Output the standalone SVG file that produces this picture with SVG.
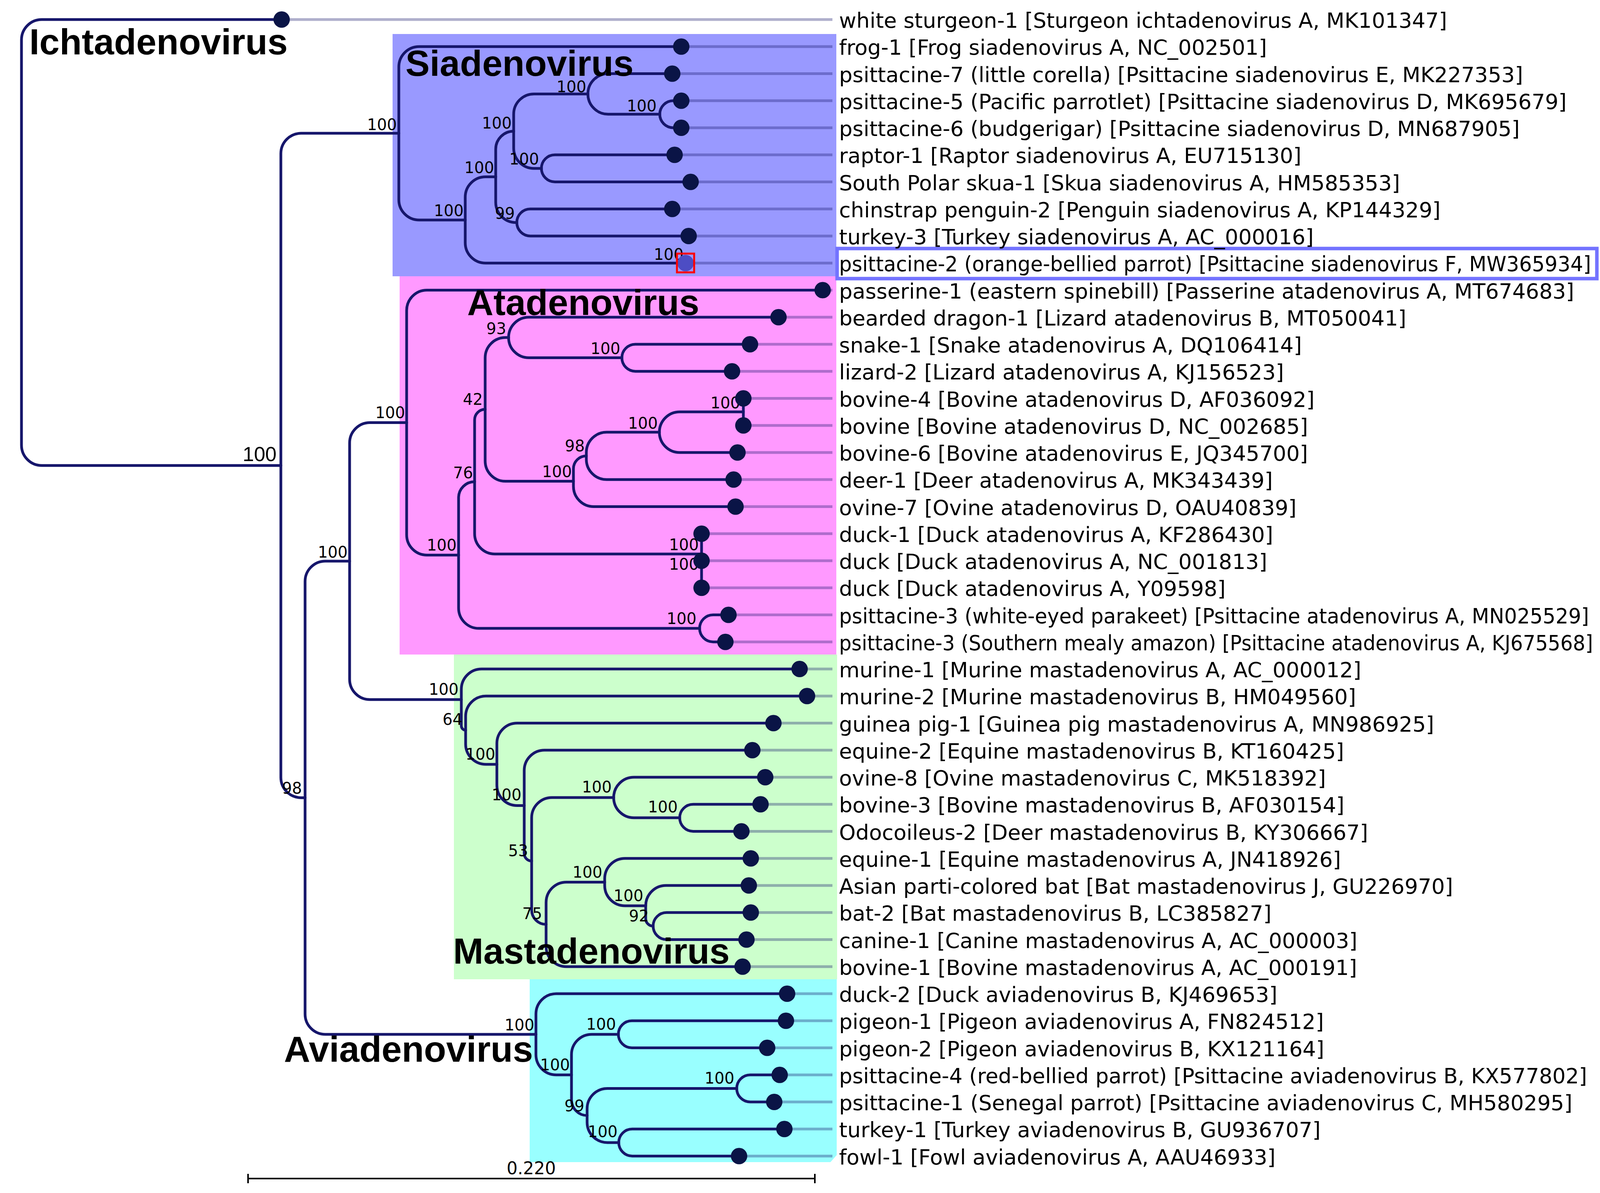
<svg xmlns="http://www.w3.org/2000/svg" width="4249" height="3053" viewBox="0 0 4249 3053">
<style>
.br{fill:none;stroke:#16166b;stroke-width:7;stroke-linecap:round}
.ext{stroke:#1a1a6e;stroke-opacity:.35;stroke-width:7}
.tip{fill:#0a1446}
.lbl{font-family:"DejaVu Sans",sans-serif;font-size:54px;fill:#000}
.bs{font-family:"DejaVu Sans",sans-serif;font-size:40px;fill:#000;text-anchor:end}
.clade{font-family:"Liberation Sans",Arial,sans-serif;font-weight:bold;font-size:93px;fill:#000}
</style>
<rect width="4249" height="3053" fill="#fff"/>
<g id="clade-backgrounds">
<rect id="bg-siadenovirus" x="1005" y="87" width="1136" height="620" fill="#9999ff"/>
<rect id="bg-atadenovirus" x="1023" y="707" width="1118" height="968" fill="#ff99ff"/>
<rect id="bg-mastadenovirus" x="1162" y="1675" width="981" height="831" fill="#ccffcc"/>
<polygon id="bg-aviadenovirus" points="1356,2506 2142,2506 2142,2956 2126,2974 1356,2974" fill="#99ffff"/>
</g>
<rect id="highlight-box" x="2143" y="636" width="1945" height="77" fill="#fff" stroke="#7373ff" stroke-width="9"/>
<g id="connectors">
<path class="br" d="M721,50 H107 A52,52 0 0 0 55,102 V1139.3 A52,52 0 0 0 107,1191.3 H719"/>
<path class="br" d="M1021,341.1 H771 A52,52 0 0 0 719,393.1 V1989.4 A52,52 0 0 0 771,2041.4 H781"/>
<path class="br" d="M1744,119.25 H1073 A52,52 0 0 0 1021,171.25 V510.9 A52,52 0 0 0 1073,562.9 H1191"/>
<path class="br" d="M1269,452.5 H1243 A52,52 0 0 0 1191,504.5 V621.25 A52,52 0 0 0 1243,673.25 H1755"/>
<path class="br" d="M1315,335.7 A46,46 0 0 0 1269,381.7 V517.4 A52,52 0 0 0 1321,569.4 H1323"/>
<path class="br" d="M1505,240.4 H1367 A52,52 0 0 0 1315,292.4 V378.9 A52,52 0 0 0 1367,430.9 H1386"/>
<path class="br" d="M1721,188.5 H1556.9 A51.9,51.9 0 0 0 1505,240.4 A51.9,51.9 0 0 0 1556.9,292.3 H1689"/>
<path class="br" d="M1744,257.75 H1723.6 A34.6,34.6 0 0 0 1689,292.35 A34.6,34.6 0 0 0 1723.6,326.95 H1744"/>
<path class="br" d="M1727,396.25 H1420.6 A34.6,34.6 0 0 0 1386,430.85 A34.6,34.6 0 0 0 1420.6,465.45 H1768"/>
<path class="br" d="M1721,534.75 H1357.6 A34.6,34.6 0 0 0 1323,569.35 A34.6,34.6 0 0 0 1357.6,603.95 H1763"/>
<path class="br" d="M895,1435.9 H833 A52,52 0 0 0 781,1487.9 V2594.9 A52,52 0 0 0 833,2646.9 H1372"/>
<path class="br" d="M1041,1081.5 H947 A52,52 0 0 0 895,1133.5 V1738.3 A52,52 0 0 0 947,1790.3 H1181"/>
<path class="br" d="M2106,742.5 H1093 A52,52 0 0 0 1041,794.5 V1368.4 A52,52 0 0 0 1093,1420.4 H1174"/>
<path class="br" d="M1215,1232.7 A41,41 0 0 0 1174,1273.7 V1556.1 A52,52 0 0 0 1226,1608.1 H1791"/>
<path class="br" d="M1242,1047.6 A27,27 0 0 0 1215,1074.6 V1365.7 A52,52 0 0 0 1267,1417.7 H1796"/>
<path class="br" d="M1302,863.7 H1294 A52,52 0 0 0 1242,915.7 V1179.6 A52,52 0 0 0 1294,1231.6 H1468"/>
<path class="br" d="M1993,811.75 H1353.9 A51.9,51.9 0 0 0 1302,863.65 A51.9,51.9 0 0 0 1353.9,915.55 H1592"/>
<path class="br" d="M1920,881 H1626.6 A34.6,34.6 0 0 0 1592,915.6 A34.6,34.6 0 0 0 1626.6,950.2 H1874"/>
<path class="br" d="M1501,1166.7 A33,33 0 0 0 1468,1199.7 V1244.5 A52,52 0 0 0 1520,1296.5 H1883"/>
<path class="br" d="M1688,1106.1 H1553 A52,52 0 0 0 1501,1158.1 V1175.25 A52,52 0 0 0 1553,1227.25 H1878"/>
<path class="br" d="M1903,1054.1 H1740 A52,52 0 0 0 1688,1106.1 A51.9,51.9 0 0 0 1739.9,1158 H1888"/>
<path class="br" d="M1903,1019.5 V1088.75"/>
<path class="br" d="M1796,1365.75 V1504.25"/>
<path class="br" d="M1865,1573.5 H1825.6 A34.6,34.6 0 0 0 1791,1608.1 A34.6,34.6 0 0 0 1825.6,1642.7 H1857"/>
<path class="br" d="M2047,1712 H1233 A52,52 0 0 0 1181,1764 V1857.6 A11,11 0 0 0 1192,1868.6"/>
<path class="br" d="M2066,1781.25 H1244 A52,52 0 0 0 1192,1833.25 V1904 A52,52 0 0 0 1244,1956 H1272"/>
<path class="br" d="M1980,1850.5 H1324 A52,52 0 0 0 1272,1902.5 V2009.5 A52,52 0 0 0 1324,2061.5 H1342"/>
<path class="br" d="M1926,1919.75 H1394 A52,52 0 0 0 1342,1971.75 V2184.3 A19,19 0 0 0 1361,2203.3"/>
<path class="br" d="M1571,2040.9 H1413 A52,52 0 0 0 1361,2092.9 V2328.6 A37,37 0 0 0 1398,2365.6"/>
<path class="br" d="M1959,1989 H1622.9 A51.9,51.9 0 0 0 1571,2040.9 A51.9,51.9 0 0 0 1622.9,2092.8 H1740"/>
<path class="br" d="M1947,2058.25 H1774.6 A34.6,34.6 0 0 0 1740,2092.85 A34.6,34.6 0 0 0 1774.6,2127.45 H1898"/>
<path class="br" d="M1548,2257.4 H1450 A52,52 0 0 0 1398,2309.4 V2421.75 A52,52 0 0 0 1450,2473.75 H1901"/>
<path class="br" d="M1922,2196.75 H1600 A52,52 0 0 0 1548,2248.75 V2266 A52,52 0 0 0 1600,2318 H1653"/>
<path class="br" d="M1917,2266 H1705 A52,52 0 0 0 1653,2318 V2350.9 A19,19 0 0 0 1672,2369.9"/>
<path class="br" d="M1922,2335.25 H1706.6 A34.6,34.6 0 0 0 1672,2369.85 A34.6,34.6 0 0 0 1706.6,2404.45 H1911"/>
<path class="br" d="M2015,2543 H1424 A52,52 0 0 0 1372,2595 V2698.8 A52,52 0 0 0 1424,2750.8 H1463"/>
<path class="br" d="M1583,2646.9 H1515 A52,52 0 0 0 1463,2698.9 V2814.6 A40,40 0 0 0 1503,2854.6"/>
<path class="br" d="M2012,2612.25 H1617.6 A34.6,34.6 0 0 0 1583,2646.85 A34.6,34.6 0 0 0 1617.6,2681.45 H1964"/>
<path class="br" d="M1886,2785.4 H1555 A52,52 0 0 0 1503,2837.4 V2871.9 A52,52 0 0 0 1555,2923.9 H1584"/>
<path class="br" d="M1996,2750.75 H1920.6 A34.6,34.6 0 0 0 1886,2785.35 A34.6,34.6 0 0 0 1920.6,2819.95 H1982"/>
<path class="br" d="M2008,2889.25 H1618.6 A34.6,34.6 0 0 0 1584,2923.85 A34.6,34.6 0 0 0 1618.6,2958.45 H1892"/>
</g>
<g id="bootstrap-labels">
<text class="bs" x="708" y="1180" style="font-family:'Liberation Sans',Arial,sans-serif;font-size:52px">100</text>
<text class="bs" x="1016" y="333">100</text>
<text class="bs" x="1187" y="553">100</text>
<text class="bs" x="1265" y="443">100</text>
<text class="bs" x="1310" y="329">100</text>
<text class="bs" x="1501" y="236">100</text>
<text class="bs" x="1681" y="285">100</text>
<text class="bs" x="1380" y="421">100</text>
<text class="bs" x="1318" y="560">99</text>
<text class="bs" x="1750" y="665">100</text>
<text class="bs" x="773" y="2031">98</text>
<text class="bs" x="890" y="1427">100</text>
<text class="bs" x="1037" y="1070">100</text>
<text class="bs" x="1169" y="1409">100</text>
<text class="bs" x="1211" y="1224">76</text>
<text class="bs" x="1236" y="1036">42</text>
<text class="bs" x="1296" y="855">93</text>
<text class="bs" x="1588" y="906">100</text>
<text class="bs" x="1464" y="1221">100</text>
<text class="bs" x="1497" y="1155">98</text>
<text class="bs" x="1684" y="1097">100</text>
<text class="bs" x="1895" y="1045">100</text>
<text class="bs" x="1789" y="1408">100</text>
<text class="bs" x="1789" y="1458">100</text>
<text class="bs" x="1783" y="1597">100</text>
<text class="bs" x="1174" y="1778">100</text>
<text class="bs" x="1184" y="1855">64</text>
<text class="bs" x="1268" y="1944">100</text>
<text class="bs" x="1335" y="2048">100</text>
<text class="bs" x="1352" y="2191">53</text>
<text class="bs" x="1566" y="2028">100</text>
<text class="bs" x="1735" y="2079">100</text>
<text class="bs" x="1388" y="2352">75</text>
<text class="bs" x="1542" y="2246">100</text>
<text class="bs" x="1647" y="2306">100</text>
<text class="bs" x="1661" y="2358">92</text>
<text class="bs" x="1368" y="2637">100</text>
<text class="bs" x="1577" y="2635">100</text>
<text class="bs" x="1459" y="2739">100</text>
<text class="bs" x="1880" y="2773">100</text>
<text class="bs" x="1496" y="2844">99</text>
<text class="bs" x="1581" y="2910">100</text>
</g>
<g id="leaf-0"><line class="ext" x1="721" y1="50" x2="2131" y2="50"/><circle class="tip" cx="721" cy="50" r="21"/><text class="lbl" x="2148" y="71">white sturgeon-1 [Sturgeon ichtadenovirus A, MK101347]</text></g>
<g id="leaf-1"><line class="ext" x1="1744" y1="119.25" x2="2131" y2="119.25"/><circle class="tip" cx="1744" cy="119.25" r="21"/><text class="lbl" x="2148" y="140.25">frog-1 [Frog siadenovirus A, NC_002501]</text></g>
<g id="leaf-2"><line class="ext" x1="1721" y1="188.5" x2="2131" y2="188.5"/><circle class="tip" cx="1721" cy="188.5" r="21"/><text class="lbl" x="2148" y="209.5">psittacine-7 (little corella) [Psittacine siadenovirus E, MK227353]</text></g>
<g id="leaf-3"><line class="ext" x1="1744" y1="257.75" x2="2131" y2="257.75"/><circle class="tip" cx="1744" cy="257.75" r="21"/><text class="lbl" x="2148" y="278.75">psittacine-5 (Pacific parrotlet) [Psittacine siadenovirus D, MK695679]</text></g>
<g id="leaf-4"><line class="ext" x1="1744" y1="327" x2="2131" y2="327"/><circle class="tip" cx="1744" cy="327" r="21"/><text class="lbl" x="2148" y="348">psittacine-6 (budgerigar) [Psittacine siadenovirus D, MN687905]</text></g>
<g id="leaf-5"><line class="ext" x1="1727" y1="396.25" x2="2131" y2="396.25"/><circle class="tip" cx="1727" cy="396.25" r="21"/><text class="lbl" x="2148" y="417.25">raptor-1 [Raptor siadenovirus A, EU715130]</text></g>
<g id="leaf-6"><line class="ext" x1="1768" y1="465.5" x2="2131" y2="465.5"/><circle class="tip" cx="1768" cy="465.5" r="21"/><text class="lbl" x="2148" y="486.5">South Polar skua-1 [Skua siadenovirus A, HM585353]</text></g>
<g id="leaf-7"><line class="ext" x1="1721" y1="534.75" x2="2131" y2="534.75"/><circle class="tip" cx="1721" cy="534.75" r="21"/><text class="lbl" x="2148" y="555.75">chinstrap penguin-2 [Penguin siadenovirus A, KP144329]</text></g>
<g id="leaf-8"><line class="ext" x1="1763" y1="604" x2="2131" y2="604"/><circle class="tip" cx="1763" cy="604" r="21"/><text class="lbl" x="2148" y="625">turkey-3 [Turkey siadenovirus A, AC_000016]</text></g>
<g id="leaf-9"><line class="ext" x1="1755" y1="673.25" x2="2131" y2="673.25"/><circle cx="1755" cy="673.25" r="21" fill="#4d4dc4"/><rect x="1733" y="649" width="44" height="48" fill="none" stroke="#ff0000" stroke-width="5"/><text class="lbl" x="2148" y="694.25" textLength="1925" lengthAdjust="spacingAndGlyphs">psittacine-2 (orange-bellied parrot) [Psittacine siadenovirus F, MW365934]</text></g>
<g id="leaf-10"><line class="ext" x1="2106" y1="742.5" x2="2131" y2="742.5"/><circle class="tip" cx="2106" cy="742.5" r="21"/><text class="lbl" x="2148" y="763.5">passerine-1 (eastern spinebill) [Passerine atadenovirus A, MT674683]</text></g>
<g id="leaf-11"><line class="ext" x1="1993" y1="811.75" x2="2131" y2="811.75"/><circle class="tip" cx="1993" cy="811.75" r="21"/><text class="lbl" x="2148" y="832.75">bearded dragon-1 [Lizard atadenovirus B, MT050041]</text></g>
<g id="leaf-12"><line class="ext" x1="1920" y1="881" x2="2131" y2="881"/><circle class="tip" cx="1920" cy="881" r="21"/><text class="lbl" x="2148" y="902">snake-1 [Snake atadenovirus A, DQ106414]</text></g>
<g id="leaf-13"><line class="ext" x1="1874" y1="950.25" x2="2131" y2="950.25"/><circle class="tip" cx="1874" cy="950.25" r="21"/><text class="lbl" x="2148" y="971.25">lizard-2 [Lizard atadenovirus A, KJ156523]</text></g>
<g id="leaf-14"><line class="ext" x1="1903" y1="1019.5" x2="2131" y2="1019.5"/><circle class="tip" cx="1903" cy="1019.5" r="21"/><text class="lbl" x="2148" y="1040.5">bovine-4 [Bovine atadenovirus D, AF036092]</text></g>
<g id="leaf-15"><line class="ext" x1="1903" y1="1088.75" x2="2131" y2="1088.75"/><circle class="tip" cx="1903" cy="1088.75" r="21"/><text class="lbl" x="2148" y="1109.75">bovine [Bovine atadenovirus D, NC_002685]</text></g>
<g id="leaf-16"><line class="ext" x1="1888" y1="1158" x2="2131" y2="1158"/><circle class="tip" cx="1888" cy="1158" r="21"/><text class="lbl" x="2148" y="1179">bovine-6 [Bovine atadenovirus E, JQ345700]</text></g>
<g id="leaf-17"><line class="ext" x1="1878" y1="1227.25" x2="2131" y2="1227.25"/><circle class="tip" cx="1878" cy="1227.25" r="21"/><text class="lbl" x="2148" y="1248.25">deer-1 [Deer atadenovirus A, MK343439]</text></g>
<g id="leaf-18"><line class="ext" x1="1883" y1="1296.5" x2="2131" y2="1296.5"/><circle class="tip" cx="1883" cy="1296.5" r="21"/><text class="lbl" x="2148" y="1317.5">ovine-7 [Ovine atadenovirus D, OAU40839]</text></g>
<g id="leaf-19"><line class="ext" x1="1796" y1="1365.75" x2="2131" y2="1365.75"/><circle class="tip" cx="1796" cy="1365.75" r="21"/><text class="lbl" x="2148" y="1386.75">duck-1 [Duck atadenovirus A, KF286430]</text></g>
<g id="leaf-20"><line class="ext" x1="1796" y1="1435" x2="2131" y2="1435"/><circle class="tip" cx="1796" cy="1435" r="21"/><text class="lbl" x="2148" y="1456">duck [Duck atadenovirus A, NC_001813]</text></g>
<g id="leaf-21"><line class="ext" x1="1796" y1="1504.25" x2="2131" y2="1504.25"/><circle class="tip" cx="1796" cy="1504.25" r="21"/><text class="lbl" x="2148" y="1525.25">duck [Duck atadenovirus A, Y09598]</text></g>
<g id="leaf-22"><line class="ext" x1="1865" y1="1573.5" x2="2131" y2="1573.5"/><circle class="tip" cx="1865" cy="1573.5" r="21"/><text class="lbl" x="2148" y="1594.5" textLength="1920" lengthAdjust="spacingAndGlyphs">psittacine-3 (white-eyed parakeet) [Psittacine atadenovirus A, MN025529]</text></g>
<g id="leaf-23"><line class="ext" x1="1857" y1="1642.75" x2="2131" y2="1642.75"/><circle class="tip" cx="1857" cy="1642.75" r="21"/><text class="lbl" x="2148" y="1663.75" textLength="1930" lengthAdjust="spacingAndGlyphs">psittacine-3 (Southern mealy amazon) [Psittacine atadenovirus A, KJ675568]</text></g>
<g id="leaf-24"><line class="ext" x1="2047" y1="1712" x2="2131" y2="1712"/><circle class="tip" cx="2047" cy="1712" r="21"/><text class="lbl" x="2148" y="1733">murine-1 [Murine mastadenovirus A, AC_000012]</text></g>
<g id="leaf-25"><line class="ext" x1="2066" y1="1781.25" x2="2131" y2="1781.25"/><circle class="tip" cx="2066" cy="1781.25" r="21"/><text class="lbl" x="2148" y="1802.25">murine-2 [Murine mastadenovirus B, HM049560]</text></g>
<g id="leaf-26"><line class="ext" x1="1980" y1="1850.5" x2="2131" y2="1850.5"/><circle class="tip" cx="1980" cy="1850.5" r="21"/><text class="lbl" x="2148" y="1871.5">guinea pig-1 [Guinea pig mastadenovirus A, MN986925]</text></g>
<g id="leaf-27"><line class="ext" x1="1926" y1="1919.75" x2="2131" y2="1919.75"/><circle class="tip" cx="1926" cy="1919.75" r="21"/><text class="lbl" x="2148" y="1940.75">equine-2 [Equine mastadenovirus B, KT160425]</text></g>
<g id="leaf-28"><line class="ext" x1="1959" y1="1989" x2="2131" y2="1989"/><circle class="tip" cx="1959" cy="1989" r="21"/><text class="lbl" x="2148" y="2010">ovine-8 [Ovine mastadenovirus C, MK518392]</text></g>
<g id="leaf-29"><line class="ext" x1="1947" y1="2058.25" x2="2131" y2="2058.25"/><circle class="tip" cx="1947" cy="2058.25" r="21"/><text class="lbl" x="2148" y="2079.25">bovine-3 [Bovine mastadenovirus B, AF030154]</text></g>
<g id="leaf-30"><line class="ext" x1="1898" y1="2127.5" x2="2131" y2="2127.5"/><circle class="tip" cx="1898" cy="2127.5" r="21"/><text class="lbl" x="2148" y="2148.5">Odocoileus-2 [Deer mastadenovirus B, KY306667]</text></g>
<g id="leaf-31"><line class="ext" x1="1922" y1="2196.75" x2="2131" y2="2196.75"/><circle class="tip" cx="1922" cy="2196.75" r="21"/><text class="lbl" x="2148" y="2217.75">equine-1 [Equine mastadenovirus A, JN418926]</text></g>
<g id="leaf-32"><line class="ext" x1="1917" y1="2266" x2="2131" y2="2266"/><circle class="tip" cx="1917" cy="2266" r="21"/><text class="lbl" x="2148" y="2287">Asian parti-colored bat [Bat mastadenovirus J, GU226970]</text></g>
<g id="leaf-33"><line class="ext" x1="1922" y1="2335.25" x2="2131" y2="2335.25"/><circle class="tip" cx="1922" cy="2335.25" r="21"/><text class="lbl" x="2148" y="2356.25">bat-2 [Bat mastadenovirus B, LC385827]</text></g>
<g id="leaf-34"><line class="ext" x1="1911" y1="2404.5" x2="2131" y2="2404.5"/><circle class="tip" cx="1911" cy="2404.5" r="21"/><text class="lbl" x="2148" y="2425.5">canine-1 [Canine mastadenovirus A, AC_000003]</text></g>
<g id="leaf-35"><line class="ext" x1="1901" y1="2473.75" x2="2131" y2="2473.75"/><circle class="tip" cx="1901" cy="2473.75" r="21"/><text class="lbl" x="2148" y="2494.75">bovine-1 [Bovine mastadenovirus A, AC_000191]</text></g>
<g id="leaf-36"><line class="ext" x1="2015" y1="2543" x2="2131" y2="2543"/><circle class="tip" cx="2015" cy="2543" r="21"/><text class="lbl" x="2148" y="2564">duck-2 [Duck aviadenovirus B, KJ469653]</text></g>
<g id="leaf-37"><line class="ext" x1="2012" y1="2612.25" x2="2131" y2="2612.25"/><circle class="tip" cx="2012" cy="2612.25" r="21"/><text class="lbl" x="2148" y="2633.25">pigeon-1 [Pigeon aviadenovirus A, FN824512]</text></g>
<g id="leaf-38"><line class="ext" x1="1964" y1="2681.5" x2="2131" y2="2681.5"/><circle class="tip" cx="1964" cy="2681.5" r="21"/><text class="lbl" x="2148" y="2702.5">pigeon-2 [Pigeon aviadenovirus B, KX121164]</text></g>
<g id="leaf-39"><line class="ext" x1="1996" y1="2750.75" x2="2131" y2="2750.75"/><circle class="tip" cx="1996" cy="2750.75" r="21"/><text class="lbl" x="2148" y="2771.75" textLength="1915" lengthAdjust="spacingAndGlyphs">psittacine-4 (red-bellied parrot) [Psittacine aviadenovirus B, KX577802]</text></g>
<g id="leaf-40"><line class="ext" x1="1982" y1="2820" x2="2131" y2="2820"/><circle class="tip" cx="1982" cy="2820" r="21"/><text class="lbl" x="2148" y="2841">psittacine-1 (Senegal parrot) [Psittacine aviadenovirus C, MH580295]</text></g>
<g id="leaf-41"><line class="ext" x1="2008" y1="2889.25" x2="2131" y2="2889.25"/><circle class="tip" cx="2008" cy="2889.25" r="21"/><text class="lbl" x="2148" y="2910.25">turkey-1 [Turkey aviadenovirus B, GU936707]</text></g>
<g id="leaf-42"><line class="ext" x1="1892" y1="2958.5" x2="2131" y2="2958.5"/><circle class="tip" cx="1892" cy="2958.5" r="21"/><text class="lbl" x="2148" y="2979.5">fowl-1 [Fowl aviadenovirus A, AAU46933]</text></g>
<g id="clade-names">
<text class="clade" x="75" y="139">Ichtadenovirus</text>
<text class="clade" x="1038" y="194">Siadenovirus</text>
<text class="clade" x="1196" y="806">Atadenovirus</text>
<text class="clade" x="1160" y="2466">Mastadenovirus</text>
<text class="clade" x="727" y="2717">Aviadenovirus</text>
</g>
<g id="scale-bar" stroke="#000" stroke-width="4">
<line x1="635" y1="3016" x2="2086" y2="3016"/>
<line x1="635" y1="3004" x2="635" y2="3028"/>
<line x1="2086" y1="3004" x2="2086" y2="3028"/>
</g>
<text x="1360" y="3005" text-anchor="middle" style="font-family:'DejaVu Sans',sans-serif;font-size:44px">0.220</text>
</svg>
